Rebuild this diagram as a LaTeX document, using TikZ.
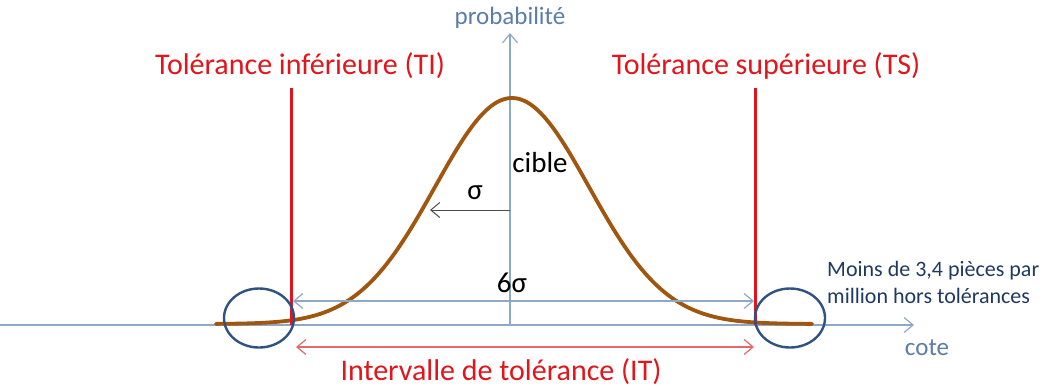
\documentclass[tikz,border=0pt]{standalone}
\usepackage{fontspec}
\setmainfont{Carlito}
\usetikzlibrary{arrows.meta,positioning,shapes.geometric}
\definecolor{axisblue}{HTML}{8EA9C8}
\definecolor{labelblue}{HTML}{5A7EA6}
\definecolor{curvebrown}{HTML}{A0560F}
\definecolor{tolred}{HTML}{E0161C}
\definecolor{itred}{HTML}{E26A6A}
\definecolor{navy}{HTML}{2F5282}
\definecolor{notenavy}{HTML}{1F3A60}
\tikzset{
  >={Straight Barb[length=9pt,width=15pt]},
  axisline/.style={draw=axisblue, line width=1.2pt, ->},
  tollimit/.style={draw=tolred, line width=3pt},
  tollabel/.style={text=tolred, font=\fontsize{30}{36}\selectfont, inner sep=0pt},
  axislabel/.style={text=labelblue, font=\fontsize{25}{30}\selectfont, inner sep=0pt},
  blacklabel/.style={text=black, font=\fontsize{29}{34}\selectfont, inner sep=0pt},
  spread/.style={draw=axisblue, line width=1.2pt, <->},
  interval/.style={draw=itred, line width=1.2pt, <->},
  outcircle/.style={ellipse, draw=navy, line width=2.4pt, minimum width=70pt, minimum height=59pt, inner sep=0pt},
}

\begin{document}
\begin{tikzpicture}[x=1pt, y=-1pt]
  \useasboundingbox[fill=white] (0,0) rectangle (1064,389);

  % axes
  \coordinate (xstart) at (0,325);
  \coordinate (xend) at (914,325);
  \coordinate (origin) at (510,325);
  \coordinate (yend) at (510,33);
  \draw[axisline] (xstart) -- (xend);
  \draw[axisline] (origin) -- (yend);
  \node[axislabel, above=4pt of yend] (prob) {probabilité};
  \node[axislabel] (cote) at (927,348) {cote};

  % courbe de Gauss
  \draw[curvebrown, line width=3.8pt, line cap=round]
    plot[domain=216:812, samples=160, smooth] (\x, {324-226*exp(-0.5*((\x-512)/77)^2)});

  % limites de tolerance
  \coordinate (tibot) at (291,325);
  \coordinate (titop) at (291,88);
  \coordinate (tsbot) at (755,325);
  \coordinate (tstop) at (755,88);
  \draw[tollimit] (tibot) -- (titop);
  \draw[tollimit] (tsbot) -- (tstop);
  \node[tollabel] (ti) at (300,66) {Tolérance inférieure (TI)};
  \node[tollabel] (ts) at (766,66) {Tolérance supérieure (TS)};

  % ecart type
  \coordinate (sigstart) at (510,210);
  \coordinate (sigend) at (430,210);
  \draw[draw=black!70, line width=1pt, ->] (sigstart) -- (sigend);
  \node[blacklabel] (sig) at (475,193) {σ};
  \node[blacklabel] (cible) at (540,163) {cible};

  % 6 sigma
  \coordinate (sixl) at (293,301);
  \coordinate (sixr) at (754,301);
  \draw[spread] (sixl) -- (sixr);
  \node[blacklabel] (six) at (512,283) {6σ};

  % intervalle de tolerance
  \coordinate (itl) at (296,347);
  \coordinate (itr) at (754,347);
  \draw[interval] (itl) -- (itr);
  \node[tollabel] (it) at (501,372) {Intervalle de tolérance (IT)};

  % hors tolerances
  \node[outcircle] (outl) at (259,318) {};
  \node[outcircle] (outr) at (790,318) {};
  \node[text=notenavy, font=\fontsize{22}{27}\selectfont, align=left, inner sep=0pt, anchor=west] (note) at (827,282) {Moins de 3,4 pièces par\\million hors tolérances};
\end{tikzpicture}
\end{document}
